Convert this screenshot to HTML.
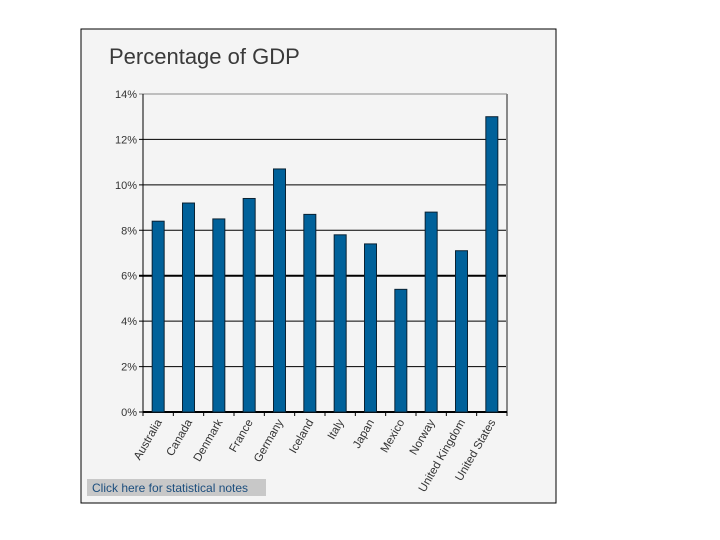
<!DOCTYPE html>
<html><head><meta charset="utf-8"><style>
html,body{margin:0;padding:0;background:#fff;width:720px;height:540px;overflow:hidden}
svg{display:block;font-family:"Liberation Sans",sans-serif}
</style></head><body>
<svg id="chart" width="720" height="540">
<rect x="81" y="29" width="475" height="474" fill="#f4f4f4" stroke="#000" stroke-width="1"/>
<text x="109" y="64" font-size="22" fill="#3a3a3a">Percentage of GDP</text>
<g id="grid"></g><g id="bars"></g><g id="xlabels"></g>
<rect x="87" y="479" width="179" height="17" fill="#c8c8c8"/>
<text x="92" y="492" font-size="12" fill="#1c4e7e">Click here for statistical notes</text>
</svg>
<script>
const categories=["Australia","Canada","Denmark","France","Germany","Iceland","Italy","Japan","Mexico","Norway","United Kingdom","United States"];
const values=[8.4,9.2,8.5,9.4,10.7,8.7,7.8,7.4,5.4,8.8,7.1,13.0];
const yTicks=[0,2,4,6,8,10,12,14];
const tickLabels=["0%","2%","4%","6%","8%","10%","12%","14%"];
const NS="http://www.w3.org/2000/svg";
const X0=143,X1=507,Y0=412,Y1=94,YMAX=14;
const y=v=>Y0-(v/YMAX)*(Y0-Y1);
const band=(X1-X0)/categories.length;
const xc=i=>X0+band*(i+0.5);
function mk(t,a,p){const e=document.createElementNS(NS,t);for(const k in a)e.setAttribute(k,a[k]);p.appendChild(e);return e;}
const grid=document.getElementById('grid'),bars=document.getElementById('bars'),xl=document.getElementById('xlabels');
yTicks.forEach((v,i)=>{
 const l=mk('line',{x1:X0-4,x2:X1,y1:y(v),y2:y(v),stroke:v===14?'#888':'#000','stroke-width':v===6?2:1},grid);
 
 
 const t=mk('text',{x:X0-6,y:y(v)+4,'text-anchor':'end','font-size':11,fill:'#333'},grid);
 t.textContent=tickLabels[i];
 
 
});
const ax=mk('line',{x1:X0,x2:X0,y1:Y1,y2:Y0,stroke:'#000'},grid);


const rb=mk('line',{x1:X1,x2:X1,y1:Y1,y2:Y0,stroke:'#888','stroke-width':2},grid);


const xa=mk('line',{x1:X0,x2:X1,y1:Y0,y2:Y0,stroke:'#000','stroke-width':2},grid);


for(let i=0;i<=categories.length;i++){
 const tk=mk('line',{x1:X0+band*i,x2:X0+band*i,y1:Y0,y2:Y0+4,stroke:'#000'},grid);
 
 
}
categories.forEach((c,i)=>{
 const w=12;
 const r=mk('rect',{x:xc(i)-w/2,y:y(values[i]),width:w,height:Y0-y(values[i]),fill:'#00619a',stroke:'#0a2233','stroke-width':1},bars);
 
 
 const t=mk('text',{x:xc(i)+4,y:Y0+10,'text-anchor':'end','font-size':11.5,fill:'#333',transform:`rotate(-60 ${xc(i)+4} ${Y0+10})`},xl);
 t.textContent=c;
 
 
});
</script>
</body></html>
